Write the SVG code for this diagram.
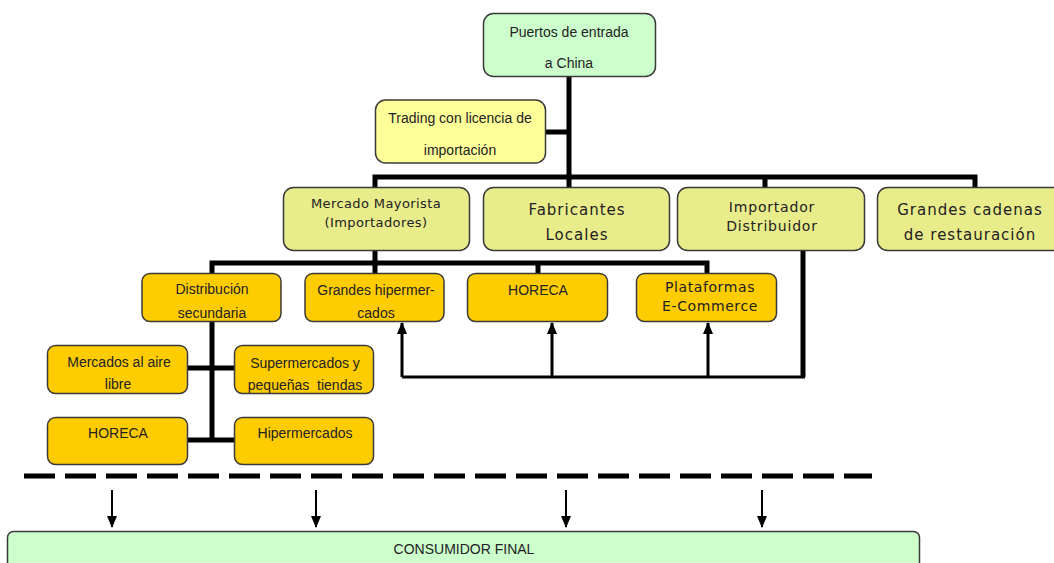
<svg xmlns="http://www.w3.org/2000/svg" width="1054" height="563" viewBox="0 0 1054 563">
<defs>
<marker id="ah" markerUnits="userSpaceOnUse" markerWidth="12" markerHeight="10" refX="11" refY="5" orient="auto" viewBox="0 0 12 10">
<path d="M0,0 L12,5 L0,10 Z" fill="#000"/>
</marker>
<style>
.box{stroke:#3a3a3a;stroke-width:1.5}
.g{fill:#ccffcc}
.ly{fill:#ffff99}
.ol{fill:#e9ec8b}
.or{fill:#ffcc00}
.a{font-family:"Liberation Sans",Arial,sans-serif;font-size:14px;fill:#222;text-anchor:middle}
.v{font-family:"DejaVu Sans",Verdana,sans-serif;fill:#222;text-anchor:middle}
.thick{stroke:#000;stroke-width:5;fill:none}
.mid{stroke:#000;stroke-width:3;fill:none}
.thin{stroke:#000;stroke-width:2;fill:none}
</style>
</defs>
<rect width="1054" height="563" fill="#fff"/>

<g id="connectors">
<path class="thick" d="M569,76 V187"/>
<path class="thick" d="M545,132 H569"/>
<path class="thick" d="M375,188 V177 H975 V188"/>
<path class="thick" d="M765,177 V188"/>
<path class="thick" d="M375,251 V273"/>
<path class="thick" d="M212,273 V263 H707 V273"/>
<path class="thick" d="M538,263 V273"/>
<path class="thick" d="M212,322 V440"/>
<path class="thick" d="M187,368 H234"/>
<path class="thick" d="M187,440 H234"/>
<path class="thick" d="M803,251 V377"/>
<path class="mid" d="M805,377 H402"/>
<path class="mid" d="M402,377 V323" marker-end="url(#ah)"/>
<path class="mid" d="M552,377 V323" marker-end="url(#ah)"/>
<path class="mid" d="M708,377 V323" marker-end="url(#ah)"/>
<path stroke="#000" stroke-width="5" stroke-dasharray="31 10" fill="none" d="M24,476 H872"/>
<path class="thin" d="M112,490 V527" marker-end="url(#ah)"/>
<path class="thin" d="M316,490 V527" marker-end="url(#ah)"/>
<path class="thin" d="M566,490 V527" marker-end="url(#ah)"/>
<path class="thin" d="M762,490 V527" marker-end="url(#ah)"/>
</g>

<g id="puertos">
<rect class="box g" x="483.5" y="13.5" width="172" height="63" rx="10"/>
<text class="a" x="569" y="37">Puertos de entrada</text>
<text class="a" x="569" y="68">a China</text>
</g>

<g id="trading">
<rect class="box ly" x="375.5" y="100" width="170" height="63" rx="10"/>
<text class="a" x="460" y="123">Trading con licencia de</text>
<text class="a" x="460" y="155">importación</text>
</g>

<g id="mercado-mayorista">
<rect class="box ol" x="283.5" y="187.5" width="186" height="63" rx="10"/>
<text class="v" x="376" y="208" font-size="13" letter-spacing="0.4">Mercado Mayorista</text>
<text class="v" x="376" y="227" font-size="13" letter-spacing="0.4">(Importadores)</text>
</g>

<g id="fabricantes">
<rect class="box ol" x="483.5" y="187.5" width="186" height="63" rx="10"/>
<text class="v" x="577" y="215" font-size="15" letter-spacing="1">Fabricantes</text>
<text class="v" x="577" y="240" font-size="15" letter-spacing="1">Locales</text>
</g>

<g id="importador">
<rect class="box ol" x="677.5" y="187.5" width="187" height="63" rx="10"/>
<text class="v" x="772" y="212" font-size="14" letter-spacing="0.8">Importador</text>
<text class="v" x="772" y="231" font-size="14" letter-spacing="0.8">Distribuidor</text>
</g>

<g id="grandes-cadenas">
<rect class="box ol" x="877.5" y="187.5" width="190" height="63" rx="10"/>
<text class="v" x="970" y="215" font-size="15" letter-spacing="1">Grandes cadenas</text>
<text class="v" x="970" y="240" font-size="15" letter-spacing="1">de restauración</text>
</g>

<g id="distribucion">
<rect class="box or" x="142" y="273.5" width="139" height="48" rx="8"/>
<text class="a" x="212" y="294">Distribución</text>
<text class="a" x="212" y="318">secundaria</text>
</g>

<g id="grandes-hiper">
<rect class="box or" x="305" y="273.5" width="139" height="48" rx="8"/>
<text class="a" x="376" y="295">Grandes hipermer-</text>
<text class="a" x="376" y="318">cados</text>
</g>

<g id="horeca1">
<rect class="box or" x="467.5" y="273.5" width="140" height="48" rx="8"/>
<text class="a" x="538" y="295">HORECA</text>
</g>

<g id="plataformas">
<rect class="box or" x="636.5" y="273.5" width="140" height="48" rx="8"/>
<text class="v" x="710" y="292" font-size="14" letter-spacing="0.6">Plataformas</text>
<text class="v" x="710" y="311" font-size="14" letter-spacing="0.6">E-Commerce</text>
</g>

<g id="mercados-aire">
<rect class="box or" x="47.5" y="345.5" width="140" height="48" rx="8"/>
<text class="a" x="119" y="367">Mercados al aire</text>
<text class="a" x="118" y="389">libre</text>
</g>

<g id="supermercados">
<rect class="box or" x="234.5" y="345.5" width="139" height="48" rx="8"/>
<text class="a" x="305" y="368">Supermercados y</text>
<text class="a" x="305" y="390" xml:space="preserve">pequeñas  tiendas</text>
</g>

<g id="horeca2">
<rect class="box or" x="47.5" y="417.5" width="140" height="47" rx="8"/>
<text class="a" x="118" y="438">HORECA</text>
</g>

<g id="hipermercados">
<rect class="box or" x="234.5" y="417.5" width="139" height="47" rx="8"/>
<text class="a" x="305" y="438">Hipermercados</text>
</g>

<g id="consumidor">
<rect class="box g" x="7.5" y="531.5" width="912" height="50" rx="6"/>
<text class="a" x="464" y="554" font-size="13">CONSUMIDOR FINAL</text>
</g>
</svg>
